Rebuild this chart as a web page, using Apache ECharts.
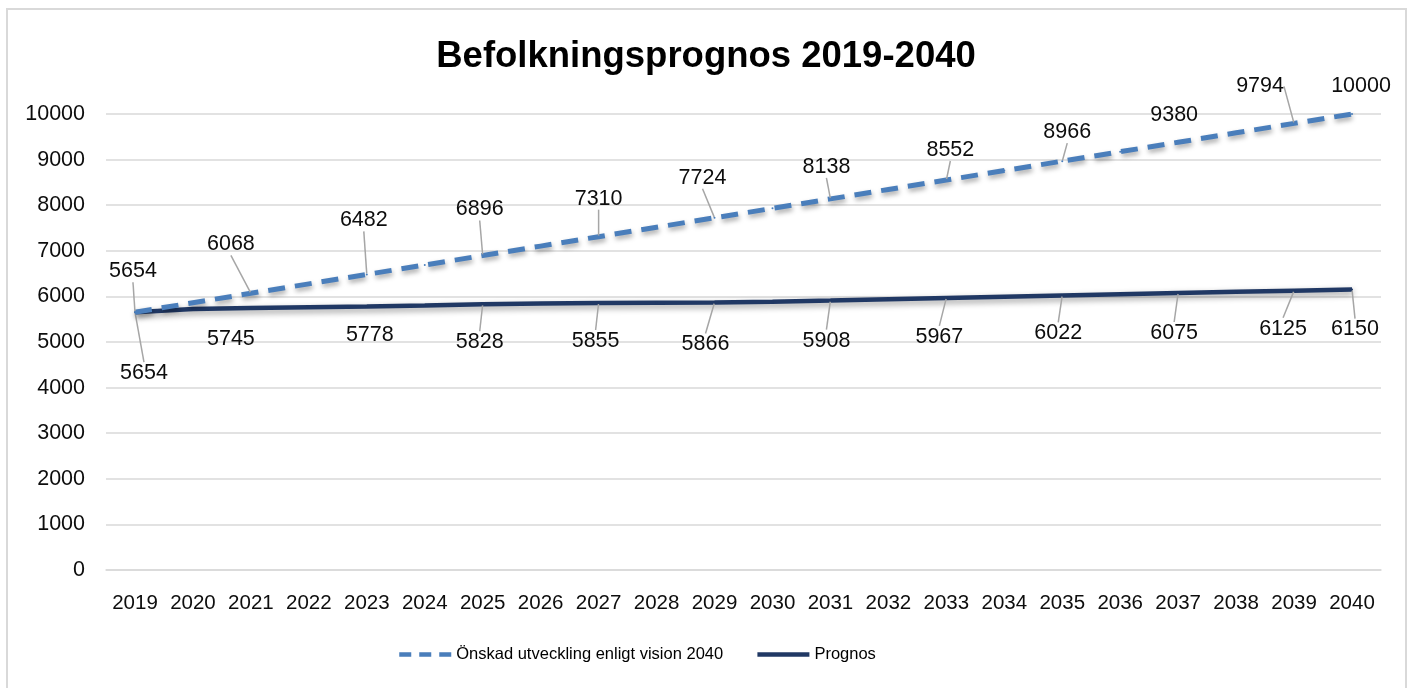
<!DOCTYPE html>
<html>
<head>
<meta charset="utf-8">
<script src="https://cdn.jsdelivr.net/npm/echarts@6/dist/echarts.min.js"></script>
<style>
html,body{margin:0;padding:0;background:#fff;overflow:hidden;}
#chart{width:1412px;height:688px;}
</style>
</head>
<body>
<div id="chart"></div>
<script>
// ---- data ----
const years = ['2019','2020','2021','2022','2023','2024','2025','2026','2027','2028','2029','2030','2031','2032','2033','2034','2035','2036','2037','2038','2039','2040'];
const visionName = 'Önskad utveckling enligt vision 2040';
const prognosName = 'Prognos';
const visionValues = [5654,5861,6068,6275,6482,6689,6896,7103,7310,7517,7724,7931,8138,8345,8552,8759,8966,9173,9380,9587,9794,10000];
const prognosValues = [5654,5725,5745,5762,5778,5800,5828,5843,5855,5862,5866,5884,5908,5937,5967,5995,6022,6049,6075,6100,6125,6150];
const yTicks = {min:0, max:10000, interval:1000};

// ---- label placement (styling only) ----
const visionLabelOffsets = {0:[-2,-41],2:[-20,-49],4:[-3,-54],6:[-3,-46],8:[0,-38],10:[-12,-40],12:[-4,-32],14:[4,-30],16:[5,-29],18:[-4,-27],20:[-34,-37],21:[9,-28]};
const prognosLabelOffsets = {0:[9,61],2:[-20,31],4:[3,29],6:[-3,38],8:[-3,38],10:[-9,42],12:[-4,40],14:[-7,39],16:[-4,38],18:[-4,40],20:[-11,38],21:[3,40]};
const visionNoLine = [18,21];
const prognosNoLine = [2,4];

function build(values, offsets, noLine){
  return values.map((v,i)=>{
    const shown = offsets[i] !== undefined;
    return {
      value: v,
      label: {show: shown},
      labelLine: {show: shown && noLine.indexOf(i) < 0}
    };
  });
}

const font = "'Liberation Sans', Arial, sans-serif";
const visionColor = '#4a7ebb';
const prognosColor = '#203864';

const chart = echarts.init(document.getElementById('chart'), null, {renderer:'canvas'});
const labelCommon = {
  position: 'inside',
  fontFamily: font,
  fontSize: 21.5,
  color: '#0d0d0d'
};
const labelLineCommon = {
  lineStyle: {color: '#a6a6a6', width: 1.5}
};

chart.setOption({
  animation: false,
  backgroundColor: '#fff',
  title: {
    text: 'Befolkningsprognos 2019-2040',
    left: 'center',
    top: 33,
    textStyle: {fontFamily: font, fontWeight: 'bold', fontSize: 36.5, color: '#000'}
  },
  graphic: [{
    type: 'rect', z: -10, silent: true,
    shape: {x: 7, y: 9, width: 1399, height: 700},
    style: {fill: 'none', stroke: '#d9d9d9', lineWidth: 2}
  }],
  legend: {
    left: 392, top: 641,
    itemWidth: 52, itemHeight: 14, itemGap: 32,
    itemStyle: {opacity: 0},
    textStyle: {fontFamily: font, fontSize: 16.5, color: '#000'},
    data: [
      {name: visionName, lineStyle: {width: 4.5, type: [12, 8], color: visionColor, shadowBlur: 0, shadowOffsetX: 0, shadowOffsetY: 0}},
      {name: prognosName, lineStyle: {width: 4.5, color: prognosColor, shadowBlur: 0, shadowOffsetX: 0, shadowOffsetY: 0}}
    ]
  },
  grid: {left: 106, right: 31, top: 114, bottom: 118, containLabel: false},
  xAxis: {
    type: 'category',
    data: years,
    boundaryGap: true,
    axisLine: {show: true, lineStyle: {color: '#d9d9d9', width: 1.5}},
    axisTick: {show: false},
    axisLabel: {fontFamily: font, fontSize: 20.5, color: '#0d0d0d', margin: 23, interval: 0}
  },
  yAxis: {
    type: 'value',
    min: yTicks.min, max: yTicks.max, interval: yTicks.interval,
    axisLine: {show: false},
    axisTick: {show: false},
    splitLine: {lineStyle: {color: '#d9d9d9', width: 1.5}},
    axisLabel: {fontFamily: font, fontSize: 21.5, color: '#0d0d0d', margin: 21,
      formatter: function(v){ return String(v); }}
  },
  series: [{
    name: visionName,
    type: 'line',
    data: build(visionValues, visionLabelOffsets, visionNoLine),
    symbol: 'circle', symbolSize: 2, showSymbol: true, showAllSymbol: true,
    itemStyle: {color: visionColor},
    lineStyle: {color: visionColor, width: 5, type: [17, 10],
      shadowColor: 'rgba(0,0,0,0.35)', shadowBlur: 5, shadowOffsetX: 1, shadowOffsetY: 3},
    label: labelCommon,
    labelLine: labelLineCommon,
    labelLayout: function(p){
      const o = visionLabelOffsets[p.dataIndex];
      return o ? {dx: o[0], dy: o[1]} : {};
    },
    emphasis: {disabled: true},
    z: 3
  },{
    name: prognosName,
    type: 'line',
    data: build(prognosValues, prognosLabelOffsets, prognosNoLine),
    symbol: 'circle', symbolSize: 2, showSymbol: true, showAllSymbol: true,
    itemStyle: {color: prognosColor},
    lineStyle: {color: prognosColor, width: 4.5,
      shadowColor: 'rgba(0,0,0,0.4)', shadowBlur: 6, shadowOffsetX: 1, shadowOffsetY: 3},
    label: labelCommon,
    labelLine: labelLineCommon,
    labelLayout: function(p){
      const o = prognosLabelOffsets[p.dataIndex];
      return o ? {dx: o[0], dy: o[1]} : {};
    },
    emphasis: {disabled: true},
    z: 2
  }]
});
</script>
</body>
</html>
